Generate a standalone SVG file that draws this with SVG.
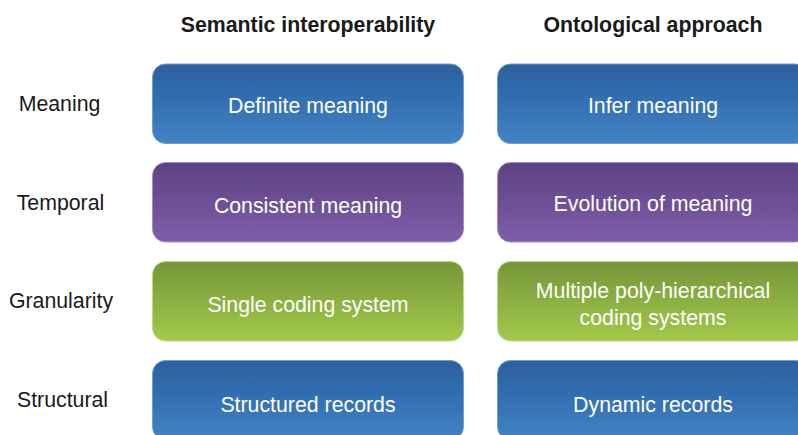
<svg xmlns="http://www.w3.org/2000/svg" width="798" height="435" viewBox="0 0 798 435">
<defs>
<linearGradient id="gBlue" x1="0" y1="0" x2="0" y2="1">
<stop offset="0" stop-color="#2f5f9b"/><stop offset="0.3" stop-color="#2f6aab"/><stop offset="1" stop-color="#4283c5"/>
</linearGradient>
<linearGradient id="gPurple" x1="0" y1="0" x2="0" y2="1">
<stop offset="0" stop-color="#5c4282"/><stop offset="1" stop-color="#7f5ea9"/>
</linearGradient>
<linearGradient id="gGreen" x1="0" y1="0" x2="0" y2="1">
<stop offset="0" stop-color="#76963a"/><stop offset="1" stop-color="#a2c94a"/>
</linearGradient>
<style>
.hdr{font-family:"Liberation Sans",Arial,sans-serif;font-size:21.3px;font-weight:bold;fill:#1a1a1a;text-anchor:middle}
.lbl{font-family:"Liberation Sans",Arial,sans-serif;font-size:21.3px;fill:#1a1a1a;text-anchor:middle}
.bt{font-family:"Liberation Sans",Arial,sans-serif;font-size:21.3px;fill:#ffffff;text-anchor:middle}
.blue{fill:url(#gBlue);stroke:#6d9fd2;stroke-width:1}
.purple{fill:url(#gPurple);stroke:#a58cc6;stroke-width:1}
.green{fill:url(#gGreen);stroke:#bcd98a;stroke-width:1}
</style>
</defs>
<rect width="798" height="435" fill="#ffffff"/>
<text class="hdr" x="308" y="32">Semantic interoperability</text>
<text class="hdr" x="653" y="32">Ontological approach</text>
<g id="row-labels">
<text class="lbl" x="59.5" y="111">Meaning</text>
<text class="lbl" x="60.5" y="210">Temporal</text>
<text class="lbl" x="61" y="308">Granularity</text>
<text class="lbl" x="62.5" y="407">Structural</text>
</g>
<g id="definite-meaning"><rect class="blue" x="152.5" y="64" width="311" height="79.5" rx="13"/><text class="bt" x="308" y="113">Definite meaning</text></g>
<g id="infer-meaning"><rect class="blue" x="497.5" y="64" width="311" height="79.5" rx="13"/><text class="bt" x="653" y="113">Infer meaning</text></g>
<g id="consistent-meaning"><rect class="purple" x="152.5" y="162.5" width="311" height="79.5" rx="13"/><text class="bt" x="308" y="213">Consistent meaning</text></g>
<g id="evolution-of-meaning"><rect class="purple" x="497.5" y="162.5" width="311" height="79.5" rx="13"/><text class="bt" x="653" y="211">Evolution of meaning</text></g>
<g id="single-coding-system"><rect class="green" x="152.5" y="261.5" width="311" height="79.5" rx="13"/><text class="bt" x="308" y="312">Single coding system</text></g>
<g id="multiple-coding-systems"><rect class="green" x="497.5" y="261.5" width="311" height="79.5" rx="13"/><text class="bt" x="653" y="298">Multiple poly-hierarchical</text><text class="bt" x="653" y="325">coding systems</text></g>
<g id="structured-records"><rect class="blue" x="152.5" y="360.5" width="311" height="79.5" rx="13"/><text class="bt" x="308" y="412">Structured records</text></g>
<g id="dynamic-records"><rect class="blue" x="497.5" y="360.5" width="311" height="79.5" rx="13"/><text class="bt" x="653" y="412">Dynamic records</text></g>
<g id="connectors"/>
</svg>
